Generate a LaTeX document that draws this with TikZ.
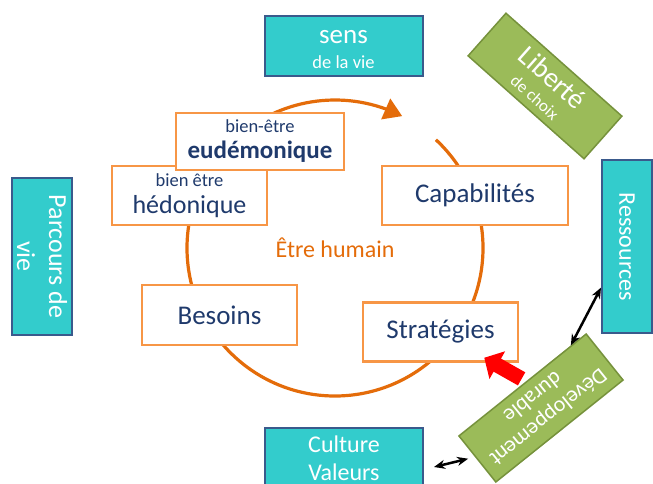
\documentclass[tikz,border=0pt]{standalone}
\usepackage{fontspec}
\setmainfont{Carlito}
\usetikzlibrary{arrows.meta,bending,calc}
\definecolor{txtblue}{HTML}{1F3A6C}
\definecolor{boxorange}{HTML}{F79646}
\definecolor{ringorange}{HTML}{E46C0A}
\definecolor{tealfill}{HTML}{33CCCC}
\definecolor{tealline}{HTML}{3A5A8C}
\definecolor{greenfill}{HTML}{9BBB59}
\definecolor{greenline}{HTML}{76923C}
\begin{document}
\begin{tikzpicture}[x=1pt,y=-1pt,
    orbox/.style={draw=boxorange,line width=2.5pt,fill=white,text=txtblue,align=center,inner sep=0pt},
    tealbox/.style={draw=tealline,line width=2pt,fill=tealfill,text=white,align=center,inner sep=0pt},
    greenbox/.style={draw=greenline,line width=1.5pt,fill=greenfill,text=white,align=center,inner sep=0pt},
    dbl/.style={{Stealth[length=11pt,width=9pt]}-{Stealth[length=11pt,width=9pt]},line width=2.5pt},
    fbig/.style={font=\fontsize{27}{30}\selectfont}]
    \useasboundingbox (0,0) rectangle (653,483);
    % ring
    \coordinate (c) at (335,248);
    \draw[ringorange,line width=3.2pt,-{Triangle[width=22pt,length=18pt]}] ($(c)+(-47:148)$) arc[start angle=-47,end angle=297,radius=148];
    \node[text=ringorange,font=\fontsize{24}{26}\selectfont] (etre) at (c) {Être humain};
    % boxes on the ring
    \node[orbox,minimum width=155pt,minimum height=59pt,font=\fontsize{26}{27}\selectfont] (hedo) at (189.5,195.5) {{\fontsize{18.5}{20}\selectfont bien être}\\hédonique};
    \node[orbox,minimum width=168pt,minimum height=57pt,font=\fontsize{25}{26}\selectfont] (eudem) at (260,141.5) {{\fontsize{18.5}{20}\selectfont bien-être}\\\textbf{eudémonique}};
    \node[orbox,fbig,minimum width=155pt,minimum height=60pt] (besoins) at (219.5,315) {Besoins};
    \node[orbox,fbig,minimum width=186pt,minimum height=59pt] (capab) at (475,195.5) {Capabilités};
    \node[orbox,fbig,minimum width=155pt,minimum height=59pt] (strat) at (440.5,332) {Stratégies};
    % outer boxes
    \node[tealbox,minimum width=158pt,minimum height=60pt,font=\fontsize{18.5}{25}\selectfont] (sens) at (343.5,45.5) {\rule{0pt}{22pt}{\fontsize{27}{30}\selectfont sens}\\de la vie};
    \node[tealbox,rotate=-90,minimum width=157pt,minimum height=60pt,font=\fontsize{26}{32}\selectfont] (parc) at (42,256.5) {Parcours de\\vie};
    \node[tealbox,rotate=-90,minimum width=173pt,minimum height=50pt,font=\fontsize{24}{26}\selectfont] (ress) at (627,246.5) {Ressources};
    \node[tealbox,minimum width=158pt,minimum height=60pt,font=\fontsize{24}{28}\selectfont] (cult) at (344,458) {Culture\\Valeurs};
    \node[greenbox,rotate=-41.6,minimum width=155pt,minimum height=57pt,font=\fontsize{17}{20}\selectfont] (lib) at (545,86) {{\fontsize{28}{30}\selectfont Liberté}\\[3pt]de choix};
    \node[greenbox,rotate=218.7,minimum width=163pt,minimum height=59pt,font=\fontsize{22}{25}\selectfont] (dev) at (541,408) {Développement\\durable};
    % links
    \draw[dbl] ($(dev.south west)!0.12!(dev.south east)$) -- ($(ress.south)!0.47!(ress.south east)$);
    \draw[dbl,shorten >=7pt] ([shift={(10,9)}]cult.east) -- ($(dev.south east)!0.45!(dev.north east)$);
    \draw[red,line width=15pt,shorten <=5pt,-{Triangle[width=31pt,length=15pt]}] ($(dev.south west)!0.47!(dev.south east)$) -- ([shift={(-35,-5)}]strat.south east);
\end{tikzpicture}
\end{document}
